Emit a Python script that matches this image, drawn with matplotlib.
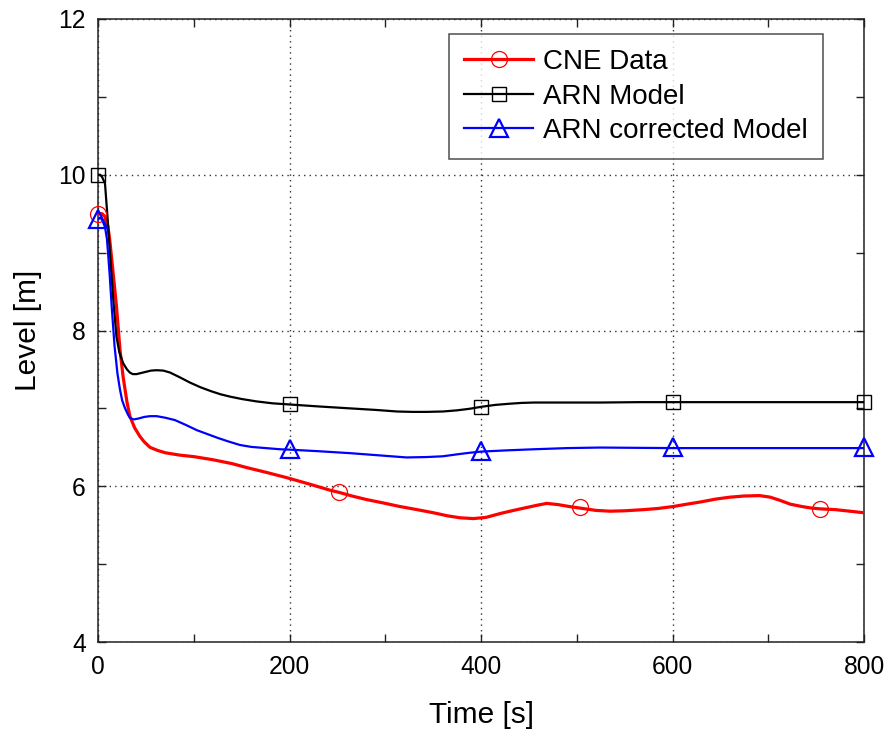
import matplotlib
matplotlib.use("Agg")
import matplotlib.pyplot as plt
from matplotlib.lines import Line2D
from matplotlib.ticker import MultipleLocator

# ---- data ----
cne_t = [0, 4, 7, 10, 12, 15, 19, 22.7, 26, 30, 33, 38, 43.5, 48, 54, 62, 70, 85, 100,
         120, 140, 155, 175, 197, 220, 242, 252, 265, 280, 298, 315, 333, 350, 365,
         378, 392, 405, 420, 432, 445, 458, 468.5, 480, 492, 503, 520, 534.6, 550, 570,
         585, 600.8, 615, 630, 645, 660, 675, 691, 702, 712, 723, 735, 745, 754, 770,
         785, 800]
cne_y = [9.5, 9.5, 9.46, 9.34, 9.16, 8.8, 8.31, 7.75, 7.4, 7.08, 6.9, 6.75, 6.64, 6.57,
         6.5, 6.46, 6.43, 6.40, 6.38, 6.34, 6.29, 6.24, 6.18, 6.11, 6.03, 5.95, 5.92,
         5.875, 5.83, 5.785, 5.74, 5.70, 5.66, 5.62, 5.595, 5.585, 5.60, 5.65, 5.685,
         5.72, 5.755, 5.78, 5.765, 5.74, 5.72, 5.69, 5.68, 5.685, 5.70, 5.715, 5.74, 5.77,
         5.80, 5.835, 5.86, 5.875, 5.88, 5.86, 5.82, 5.77, 5.74, 5.72, 5.71, 5.70, 5.68,
         5.66]
cne_mk_t = [0, 252, 503, 754]
cne_mk_y = [9.5, 5.92, 5.73, 5.71]

arn_t = [0, 2, 4, 7, 10, 12, 15.7, 19, 22, 26, 30, 33, 36, 40, 45, 50, 55, 61, 68, 75,
         85, 96, 107, 118, 128, 138, 150, 165, 182, 200, 230, 263, 290, 312, 328, 343,
         360, 375, 388, 400, 415, 430, 442, 455, 480, 524, 565, 600, 700, 800]
arn_y = [10.0, 10.0, 9.97, 9.89, 9.4, 9.03, 8.39, 7.92, 7.72, 7.58, 7.5, 7.46, 7.44,
         7.44, 7.455, 7.47, 7.485, 7.49, 7.485, 7.46, 7.40, 7.33, 7.27, 7.22, 7.18, 7.15,
         7.12, 7.09, 7.065, 7.05, 7.025, 7.0, 6.98, 6.96, 6.955, 6.955, 6.96, 6.975,
         6.995, 7.02, 7.045, 7.06, 7.07, 7.075, 7.075, 7.075, 7.08, 7.08, 7.08, 7.08]
arn_mk_t = [0, 200, 400, 600, 800]
arn_mk_y = [10.0, 7.05, 7.02, 7.08, 7.08]

cor_t = [0, 2, 4, 7, 9, 10.5, 12, 14, 17, 20, 22.7, 25, 28, 31, 33, 36, 38, 42, 48, 54,
         61, 70, 80, 91, 103, 114, 125, 136, 148, 160, 175, 190, 200, 230, 263, 290, 322,
         343, 360, 375, 388, 400, 425, 455, 490, 524, 600, 700, 800]
cor_y = [9.43, 9.45, 9.42, 9.33, 9.18, 8.95, 8.7, 8.31, 7.8, 7.45, 7.24, 7.1, 7.0, 6.92,
         6.88, 6.86, 6.86, 6.87, 6.89, 6.90, 6.90, 6.88, 6.85, 6.79, 6.72, 6.67, 6.62,
         6.575, 6.53, 6.505, 6.49, 6.475, 6.47, 6.45, 6.425, 6.40, 6.37, 6.375, 6.385,
         6.41, 6.43, 6.445, 6.46, 6.475, 6.49, 6.497, 6.49, 6.49, 6.49]
cor_mk_t = [0, 200, 400, 600, 800]
cor_mk_y = [9.43, 6.48, 6.45, 6.5, 6.5]

labels = ["CNE Data", "ARN Model", "ARN corrected Model"]
x_ticks = [0, 200, 400, 600, 800]
y_ticks = [4, 6, 8, 10, 12]

plt.rcParams['font.family'] = ['Liberation Sans', 'DejaVu Sans']

fig = plt.figure(figsize=(8.91, 7.36), dpi=100)
ax = fig.add_axes([0.1103, 0.1277, 0.9697 - 0.1103, 0.9742 - 0.1277])

ax.plot(cne_t, cne_y, color='red', lw=2.3, zorder=3, solid_joinstyle='round')
ax.plot(cne_mk_t, cne_mk_y, ls='none', marker='o', ms=11.5, mfc='none',
        mec='red', mew=0.9, zorder=4, clip_on=False)
ax.plot(arn_t, arn_y, color='black', lw=1.6, zorder=3, solid_joinstyle='round')
ax.plot(arn_mk_t, arn_mk_y, ls='none', marker='s', ms=10.5, mfc='none',
        mec='black', mew=1.0, zorder=4, clip_on=False)
ax.plot(cor_t, cor_y, color='blue', lw=1.6, zorder=3, solid_joinstyle='round')
ax.plot(cor_mk_t, cor_mk_y, ls='none', marker='^', ms=13, mfc='none',
        mec='blue', mew=1.6, zorder=4, clip_on=False)

ax.set_xlim(0, 800)
ax.set_ylim(4, 12)
ax.set_xticks(x_ticks)
ax.set_yticks(y_ticks)
ax.xaxis.set_minor_locator(MultipleLocator(100))
ax.yaxis.set_minor_locator(MultipleLocator(1))
ax.tick_params(which='both', direction='in', top=True, right=True,
               length=6, width=1, labelsize=17.7, color='#222222', pad=9)
ax.grid(True, which='major', ls=(0, (1, 3)), color='#333333', lw=1)
for s in ax.spines.values():
    s.set_linewidth(1.1)
    s.set_color('#222222')

ax.set_xlabel("Time [s]", fontsize=21.5, labelpad=16)
ax.set_ylabel("Level [m]", fontsize=21.5, labelpad=12)

handles = [
    Line2D([], [], color='red', lw=2.3, marker='o', ms=11.5, mfc='none', mec='red', mew=0.9),
    Line2D([], [], color='black', lw=1.6, marker='s', ms=10.5, mfc='none', mec='black', mew=1.0),
    Line2D([], [], color='blue', lw=1.6, marker='^', ms=13, mfc='none', mec='blue', mew=1.6),
]
leg = ax.legend(handles, labels, loc='upper right', bbox_to_anchor=(0.9465, 0.976),
                fontsize=20, frameon=True, fancybox=False, edgecolor='#222222',
                handlelength=2.5, handletextpad=0.35, borderpad=0.55, labelspacing=0.3,
                borderaxespad=0)
leg.get_frame().set_linewidth(1.1)

fig.savefig("out.png", dpi=100)
